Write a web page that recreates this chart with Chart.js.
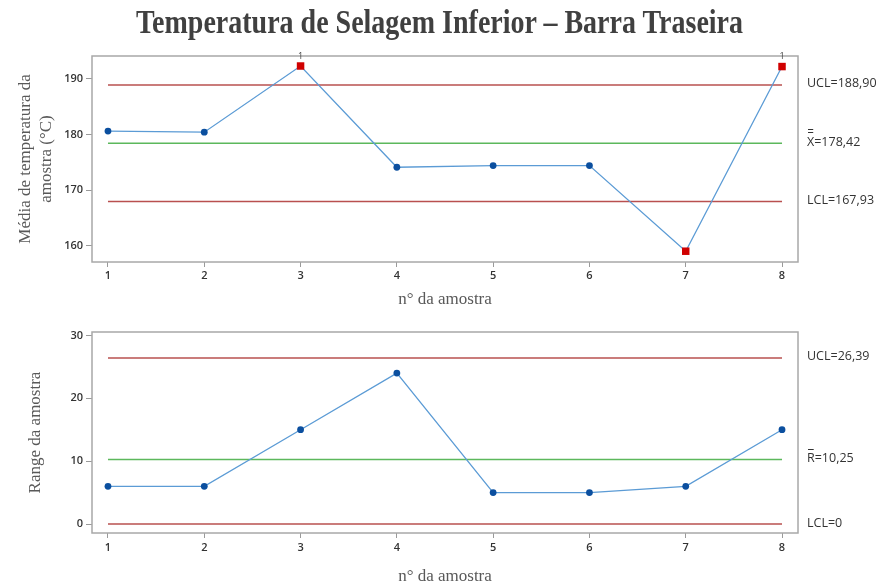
<!DOCTYPE html>
<html>
<head>
<meta charset="utf-8">
<script src="https://cdn.jsdelivr.net/npm/chart.js@4/dist/chart.umd.min.js"></script>
<style>
  html, body { margin: 0; padding: 0; background: #fff; }
  #wrap { position: relative; width: 879px; height: 587px; overflow: hidden; }
  #title {
    position: absolute; left: 0; top: 0; width: 879px; text-align: center;
    font: bold 28px "Liberation Serif", "Times New Roman", serif; color: #404040;
    line-height: 36px; white-space: nowrap;
    transform: scaleY(1.22); transform-origin: 50% 0;
  }
  #meanChart { position: absolute; left: 0; top: 0; }
  #rangeChart { position: absolute; left: 0; top: 310px; }
</style>
</head>
<body>
<div id="wrap">
  <canvas id="meanChart" width="879" height="310"></canvas>
  <canvas id="rangeChart" width="879" height="277"></canvas>
  <div id="title">Temperatura de Selagem Inferior – Barra Traseira</div>
</div>
<script>
// Sample numbers (x axis)
const samples = [1, 2, 3, 4, 5, 6, 7, 8];

// X-bar chart: sample means (°C) and control limits
const meanValues = [180.6, 180.4, 192.3, 174.1, 174.4, 174.4, 159.0, 192.2];
const meanUCL = 188.90;
const meanCL = 178.42;
const meanLCL = 167.93;
const meanTicks = [160, 170, 180, 190];

// R chart: sample ranges and control limits
const rangeValues = [6, 6, 15, 24, 5, 5, 6, 15];
const rangeUCL = 26.39;
const rangeCL = 10.25;
const rangeLCL = 0;
const rangeTicks = [0, 10, 20, 30];

const SERIF = '"Liberation Serif", "Times New Roman", serif';
const SANS = '"Open Sans", "Noto Sans", sans-serif';
const LINE_BLUE = '#5b9bd5';
const POINT_BLUE = '#0b4f9f';
const OUT_RED = '#d00000';
const LIMIT_RED = '#b9504f';
const CENTER_GREEN = '#5cb85c';

function fmt(v) {
  return Number.isInteger(v) ? String(v) : v.toFixed(2).replace('.', ',');
}

// Plot frame around the chart area
const framePlugin = {
  id: 'frame',
  afterDraw(chart) {
    const a = chart.chartArea, ctx = chart.ctx;
    ctx.save();
    ctx.strokeStyle = '#a8a8a8';
    ctx.lineWidth = 1.5;
    ctx.strokeRect(a.left, a.top, a.right - a.left, a.bottom - a.top);
    ctx.restore();
  }
};

// Limit labels on the right of the plot, plus test-failure markers
const limitLabelPlugin = {
  id: 'limitLabels',
  afterDraw(chart, args, opts) {
    const ctx = chart.ctx, y = chart.scales.y, x = chart.scales.x;
    const a = chart.chartArea;
    const lx = a.right + 9;
    ctx.save();
    ctx.fillStyle = '#333';
    ctx.font = '12.5px ' + SANS;
    ctx.textAlign = 'left';
    ctx.textBaseline = 'middle';
    const yU = y.getPixelForValue(opts.ucl) - 1.5;
    const yC = y.getPixelForValue(opts.cl) - 1;
    const yL = y.getPixelForValue(opts.lcl) - 1;
    ctx.fillText('UCL=' + fmt(opts.ucl), lx, yU);
    ctx.fillText(opts.clSymbol + '=' + fmt(opts.cl), lx, yC);
    ctx.fillText('LCL=' + fmt(opts.lcl), lx, yL);
    // bar(s) above the centre-line symbol
    const w = ctx.measureText(opts.clSymbol).width;
    ctx.strokeStyle = '#333';
    ctx.lineWidth = 1;
    for (let i = 0; i < opts.bars; i++) {
      const by = Math.round(yC - 10 - i * 3) + 0.5;
      ctx.beginPath();
      ctx.moveTo(lx + 1, by);
      ctx.lineTo(lx + w - 1, by);
      ctx.stroke();
    }
    // "1" flags for points beyond the upper limit
    if (opts.flags) {
      ctx.font = '9px ' + SANS;
      ctx.fillStyle = '#444';
      ctx.textAlign = 'center';
      ctx.textBaseline = 'alphabetic';
      opts.values.forEach((v, i) => {
        if (v > opts.ucl) ctx.fillText('1', x.getPixelForValue(samples[i]), a.top + 3);
      });
    }
    ctx.restore();
  }
};

function limitLine(value, color) {
  return {
    data: [{ x: samples[0], y: value }, { x: samples[samples.length - 1], y: value }],
    borderColor: color,
    borderWidth: 1.5,
    pointRadius: 0,
    fill: false
  };
}

function makeChart(id, cfg) {
  const outOf = (v) => cfg.flagOut && (v > cfg.ucl || v < cfg.lcl);
  return new Chart(document.getElementById(id), {
    type: 'line',
    data: {
      datasets: [
        {
          data: samples.map((s, i) => ({ x: s, y: cfg.values[i] })),
          borderColor: LINE_BLUE,
          borderWidth: 1.3,
          pointStyle: (c) => outOf(c.raw.y) ? 'rect' : 'circle',
          pointRadius: (c) => outOf(c.raw.y) ? 5.3 : 3.4,
          pointBackgroundColor: (c) => outOf(c.raw.y) ? OUT_RED : POINT_BLUE,
          pointBorderColor: (c) => outOf(c.raw.y) ? OUT_RED : POINT_BLUE,
          pointBorderWidth: 0,
          tension: 0,
          fill: false
        },
        limitLine(cfg.ucl, LIMIT_RED),
        limitLine(cfg.cl, CENTER_GREEN),
        limitLine(cfg.lcl, LIMIT_RED)
      ]
    },
    options: {
      responsive: false,
      animation: false,
      devicePixelRatio: 1,
      layout: { padding: { top: cfg.padTop, right: 81, left: 0, bottom: 0 } },
      plugins: {
        legend: { display: false },
        tooltip: { enabled: false },
        limitLabels: {
          ucl: cfg.ucl, cl: cfg.cl, lcl: cfg.lcl,
          clSymbol: cfg.clSymbol, bars: cfg.bars,
          values: cfg.values, flags: cfg.flagOut
        }
      },
      scales: {
        x: {
          type: 'linear',
          min: 0.834,
          max: 8.166,
          afterBuildTicks: (s) => { s.ticks = samples.map(v => ({ value: v })); },
          afterFit: (s) => { s.height = cfg.xAxisHeight; },
          grid: { display: true, drawOnChartArea: false, tickLength: 5, color: '#9a9a9a', lineWidth: 1 },
          border: { display: false },
          ticks: {
            padding: cfg.xTickPad,
            color: '#333',
            font: { family: SANS, size: 11, weight: '600' },
            maxRotation: 0
          },
          title: {
            display: true,
            text: 'n° da amostra',
            color: '#595959',
            font: { family: SERIF, size: 17 },
            padding: { top: 0, bottom: 0 }
          }
        },
        y: {
          type: 'linear',
          min: cfg.yMin,
          max: cfg.yMax,
          afterBuildTicks: (s) => { s.ticks = cfg.yTicks.map(v => ({ value: v })); },
          afterFit: (s) => { s.width = 92; },
          grid: { display: true, drawOnChartArea: false, tickLength: 6, color: '#9a9a9a', lineWidth: 1 },
          border: { display: false },
          ticks: {
            padding: 3,
            color: '#333',
            font: { family: SANS, size: 11, weight: '600' }
          },
          title: {
            display: true,
            text: cfg.yTitle,
            color: '#595959',
            font: { family: SERIF, size: 17 },
            padding: { top: cfg.yTitlePad, bottom: 0 }
          }
        }
      }
    },
    plugins: [framePlugin, limitLabelPlugin]
  });
}

makeChart('meanChart', {
  values: meanValues, ucl: meanUCL, cl: meanCL, lcl: meanLCL,
  yTicks: meanTicks, yMin: 157.06, yMax: 194.1,
  yTitle: ['Média de temperatura da', 'amostra (°C)'], yTitlePad: 15.5,
  clSymbol: 'X', bars: 2, flagOut: true,
  padTop: 56, xAxisHeight: 48, xTickPad: 2.5
});

makeChart('rangeChart', {
  values: rangeValues, ucl: rangeUCL, cl: rangeCL, lcl: rangeLCL,
  yTicks: rangeTicks, yMin: -1.43, yMax: 30.54,
  yTitle: 'Range da amostra', yTitlePad: 25.8,
  clSymbol: 'R', bars: 1, flagOut: false,
  padTop: 22, xAxisHeight: 54, xTickPad: 3.4
});
</script>
</body>
</html>
